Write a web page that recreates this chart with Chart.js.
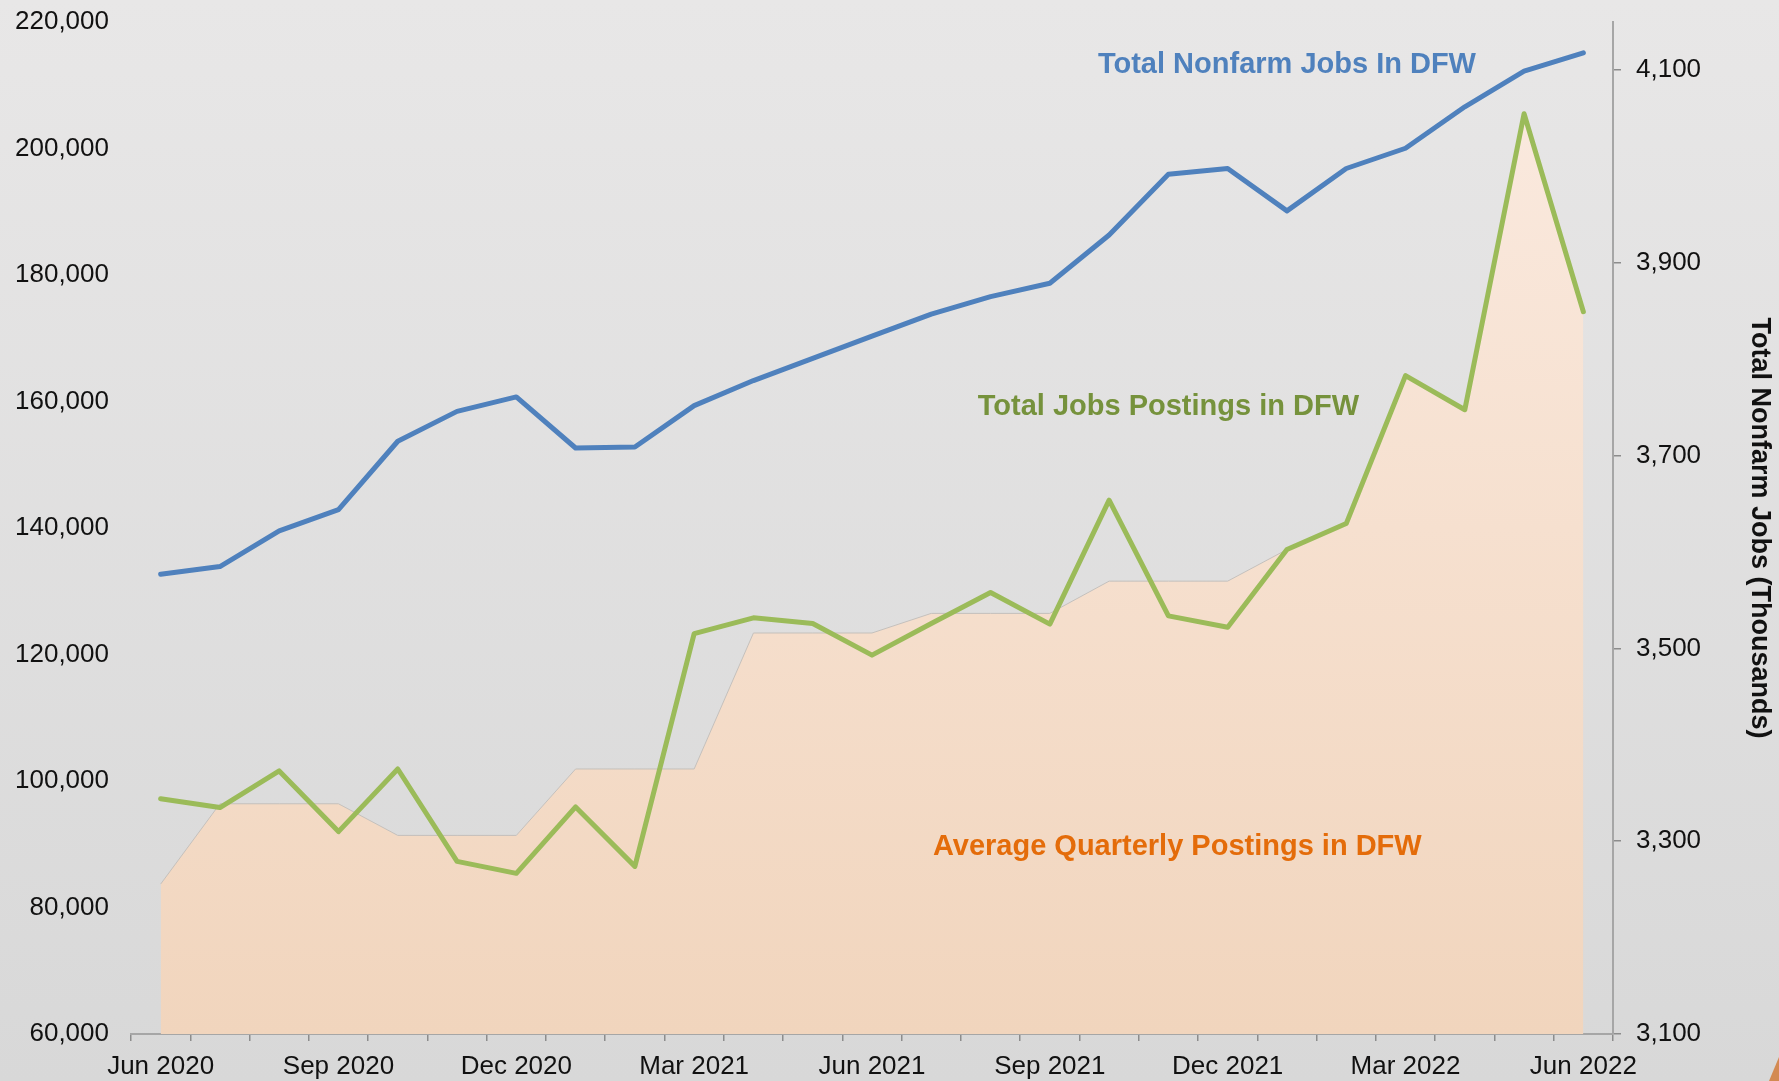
<!DOCTYPE html>
<html>
<head>
<meta charset="utf-8">
<script src="https://cdn.jsdelivr.net/npm/chart.js@4/dist/chart.umd.min.js"></script>
<style>
  html, body { margin: 0; padding: 0; }
  body {
    width: 1779px;
    height: 1081px;
    overflow: hidden;
    position: relative;
    background: linear-gradient(#e8e7e7, #d8d8d8);
  }
  #jobsChart { display: block; }
  .corner {
    position: absolute;
    right: 0;
    bottom: 0;
    width: 10px;
    height: 24px;
    background: #d38a52;
    clip-path: polygon(100% 0, 100% 100%, 0 100%);
  }
</style>
</head>
<body>
<canvas id="jobsChart" width="1779" height="1081"></canvas>
<div class="corner"></div>
<script>
// Meses, de Jun 2020 a Jun 2022
const months = [
  'Jun 2020', 'Jul 2020', 'Aug 2020', 'Sep 2020', 'Oct 2020', 'Nov 2020', 'Dec 2020',
  'Jan 2021', 'Feb 2021', 'Mar 2021', 'Apr 2021', 'May 2021', 'Jun 2021',
  'Jul 2021', 'Aug 2021', 'Sep 2021', 'Oct 2021', 'Nov 2021', 'Dec 2021',
  'Jan 2022', 'Feb 2022', 'Mar 2022', 'Apr 2022', 'May 2022', 'Jun 2022'
]

// Empleos totales no agrícolas (miles) - eje derecho
const nonfarmJobs = [
  3577, 3585, 3622, 3644, 3715, 3746, 3761,
  3708, 3709, 3752, 3778, 3801, 3824,
  3847, 3865, 3879, 3929, 3992, 3998,
  3954, 3998, 4019, 4062, 4099, 4118
]

// Ofertas de empleo publicadas - eje izquierdo
const jobPostings = [
  97200, 95800, 101600, 92000, 101900, 87300, 85400,
  95900, 86500, 123300, 125800, 124900, 119900,
  124900, 129800, 124800, 144400, 126100, 124300,
  136600, 140700, 164100, 158700, 205500, 174200
]

// Promedio trimestral de ofertas (área)
const avgQuarterly = [
  83700, 96400, 96400, 96400, 91400, 91400, 91400,
  101900, 101900, 101900, 123400, 123400, 123400,
  126500, 126500, 126500, 131600, 131600, 131600,
  136600, 140700, 164100, 158700, 205500, 174200
]

const leftTicks = [60000, 80000, 100000, 120000, 140000, 160000, 180000, 200000, 220000]
const rightTicks = [3100, 3300, 3500, 3700, 3900, 4100]
const rightMax = 4150

const fontFamily = "'Liberation Sans', Arial, sans-serif"

// Etiquetas de texto sobre la gráfica
const seriesNotes = {
  id: 'seriesNotes',
  afterDatasetsDraw(chart) {
    const {ctx, scales: {x, y}} = chart
    const notes = [
      {text: 'Total Nonfarm Jobs In DFW', color: '#4f81bd', i: 19, v: 213200},
      {text: 'Total Jobs Postings in DFW', color: '#76923c', i: 17, v: 159100},
      {text: 'Average Quarterly Postings in DFW', color: '#e46c0a', i: 17.15, v: 89600}
    ]
    ctx.save()
    ctx.font = `bold 29px ${fontFamily}`
    ctx.textAlign = 'center'
    ctx.textBaseline = 'middle'
    for (const n of notes) {
      ctx.fillStyle = n.color
      ctx.fillText(n.text, x.getPixelForValue(n.i), y.getPixelForValue(n.v))
    }
    ctx.restore()
  }
}

const areaFill = (context) => {
  const {chart} = context
  const area = chart.chartArea
  if (!area) return '#f5dfcd'
  const g = chart.ctx.createLinearGradient(0, area.top, 0, area.bottom)
  g.addColorStop(0, '#fbebe1')
  g.addColorStop(1, '#f1d5bd')
  return g
}

const tickFont = {family: fontFamily, size: 26}
const fixTicks = (values) => (scale) => {
  scale.ticks = values.map(v => ({value: v}))
}
// ancho fijo del eje, sin margen extra arriba/abajo
const fixWidth = (w) => (s) => {
  s.width = w
  s.paddingTop = 0
  s.paddingBottom = 0
}

new Chart(document.querySelector('#jobsChart'), {
  type: 'line',
  data: {
    labels: months,
    datasets: [
      {
        label: 'Total Nonfarm Jobs In DFW',
        data: nonfarmJobs,
        yAxisID: 'y1',
        borderColor: '#4f81bd',
        borderWidth: 5,
        pointRadius: 0,
        borderJoinStyle: 'round',
        borderCapStyle: 'round',
        order: 1
      },
      {
        label: 'Total Jobs Postings in DFW',
        data: jobPostings,
        yAxisID: 'y',
        borderColor: '#9bbb59',
        borderWidth: 5,
        pointRadius: 0,
        borderJoinStyle: 'round',
        borderCapStyle: 'round',
        order: 2
      },
      {
        label: 'Average Quarterly Postings in DFW',
        data: avgQuarterly,
        yAxisID: 'y',
        borderColor: '#c4c0bc',
        borderWidth: 1,
        backgroundColor: areaFill,
        fill: 'start',
        pointRadius: 0,
        order: 3
      }
    ]
  },
  options: {
    responsive: false,
    animation: false,
    devicePixelRatio: 1,
    layout: {padding: {top: 22, left: 0, right: 0, bottom: 0}},
    plugins: {
      legend: {display: false},
      tooltip: {enabled: false}
    },
    scales: {
      x: {
        offset: true,
        grid: {
          display: true,
          offset: true,
          drawOnChartArea: false,
          tickLength: 7,
          color: '#8c8c8c',
          lineWidth: 1.5
        },
        border: {display: true, color: '#a6a6a6', width: 2},
        ticks: {
          autoSkip: false,
          maxRotation: 0,
          padding: 10,
          color: '#111',
          font: tickFont,
          callback: function (val, i) {
            return i % 3 === 0 ? this.getLabelForValue(val) : ''
          }
        },
        afterFit: (s) => { s.height = 47 }
      },
      y: {
        position: 'left',
        min: leftTicks[0],
        max: leftTicks[leftTicks.length - 1],
        grid: {display: false, drawTicks: false},
        border: {display: false},
        afterBuildTicks: fixTicks(leftTicks),
        ticks: {
          padding: 22,
          color: '#111',
          font: tickFont,
          callback: (v) => v.toLocaleString('en-US')
        },
        afterFit: fixWidth(131)
      },
      y1: {
        position: 'right',
        min: rightTicks[0],
        max: rightMax,
        grid: {
          display: true,
          drawOnChartArea: false,
          tickLength: 8,
          color: '#8c8c8c',
          lineWidth: 1.5
        },
        border: {display: true, color: '#a6a6a6', width: 2},
        afterBuildTicks: fixTicks(rightTicks),
        ticks: {
          padding: 15,
          color: '#111',
          font: tickFont,
          callback: (v) => v.toLocaleString('en-US')
        },
        title: {
          display: true,
          text: 'Total Nonfarm Jobs (Thousands)',
          color: '#111',
          font: {family: fontFamily, size: 27, weight: 'bold'},
          padding: {top: 3, bottom: 0}
        },
        afterFit: fixWidth(166)
      }
    }
  },
  plugins: [seriesNotes]
})
</script>
</body>
</html>
